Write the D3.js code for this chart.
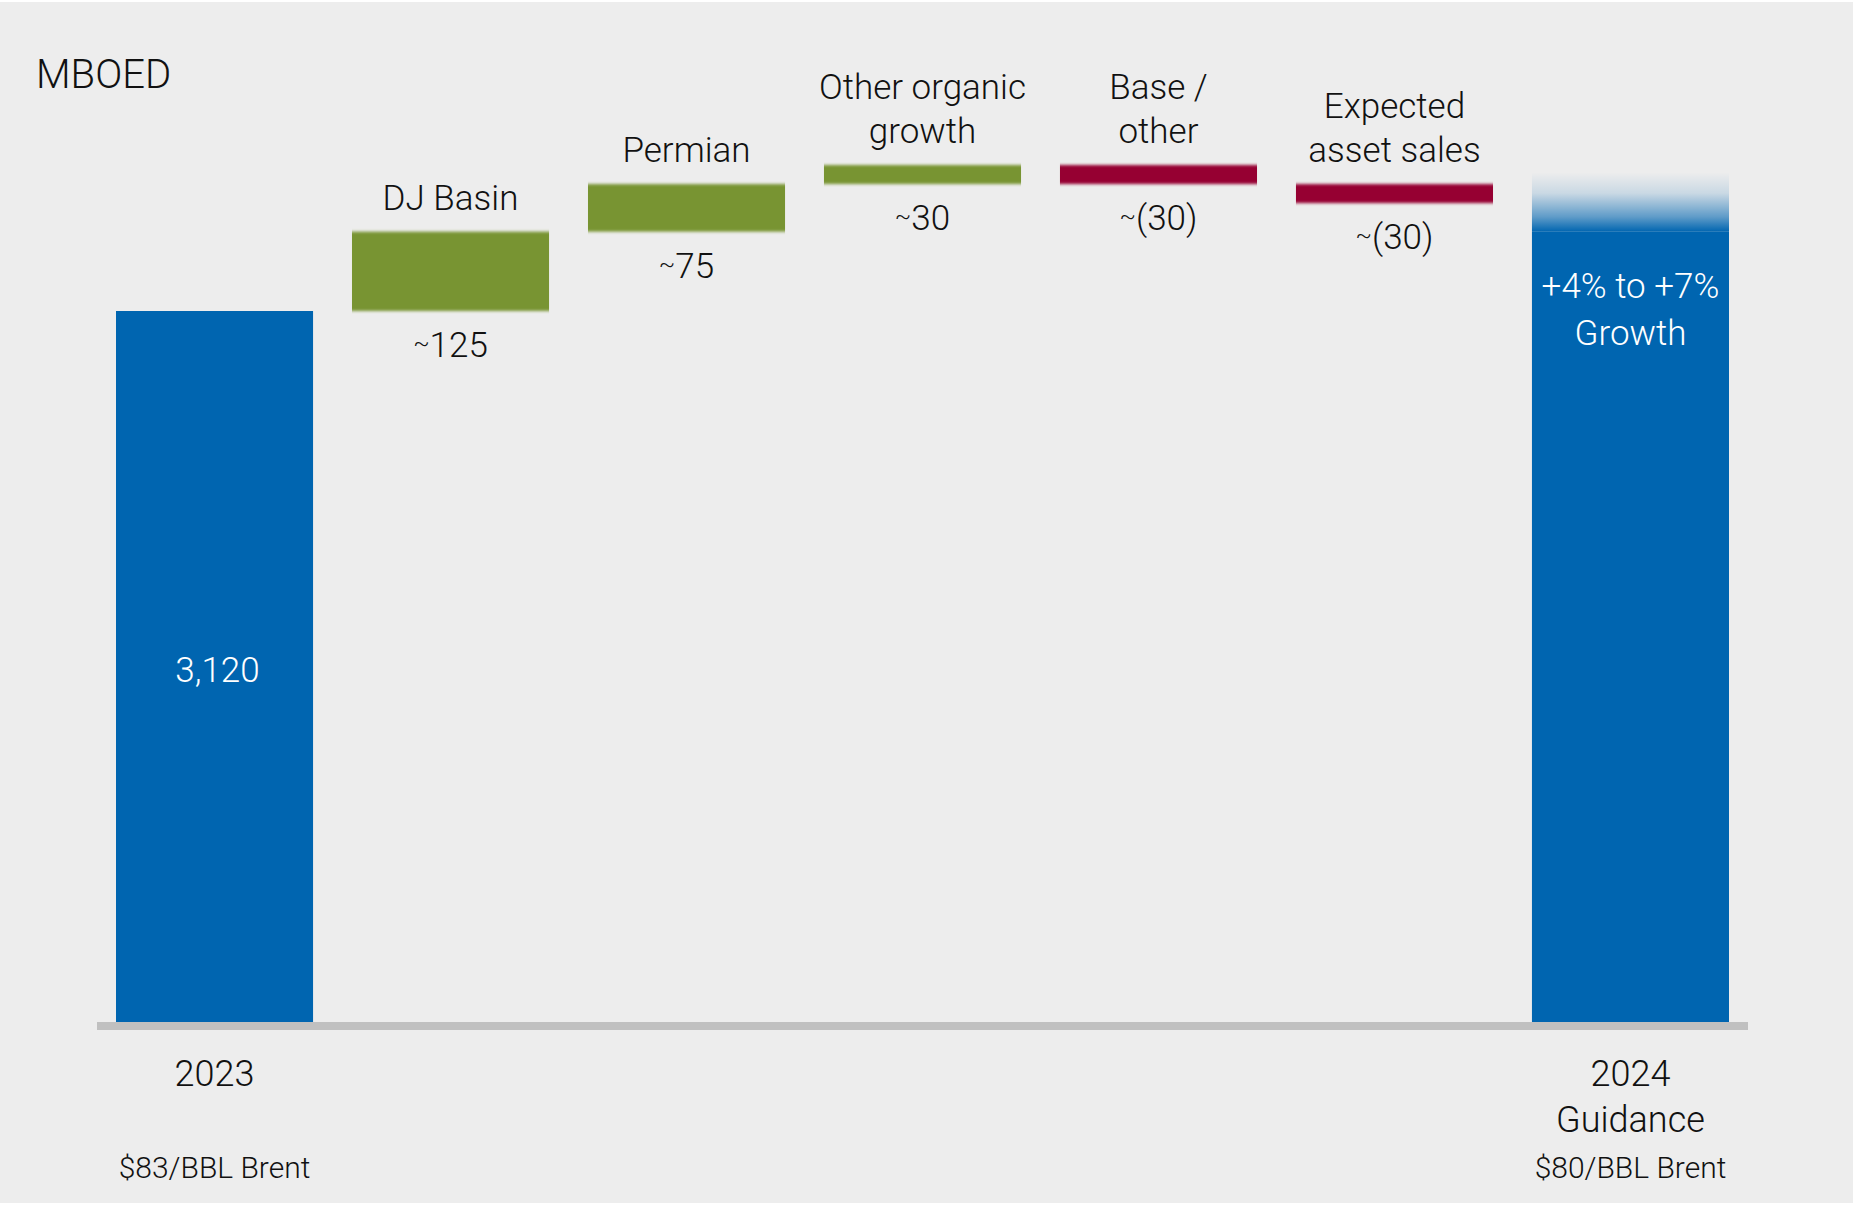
<!DOCTYPE html>
<html>
<head>
<meta charset="utf-8">
<script src="https://cdn.jsdelivr.net/npm/d3@7"></script>
<style>
  html, body { margin: 0; padding: 0; background: #ffffff; }
  svg { display: block; }
  text { font-family: Roboto, "Noto Sans", sans-serif; font-weight: 300; }
</style>
</head>
<body>
<svg id="chart" width="1853" height="1205"></svg>
<script>
// ---- data ----
const categories = ["2023", "DJ Basin", "Permian", "Other organic growth", "Base / other", "Expected asset sales", "2024 Guidance"];
const topLabelLines = [null, ["DJ Basin"], ["Permian"], ["Other organic", "growth"], ["Base /", "other"], ["Expected", "asset sales"], null];
const startValue = 3120;
const deltas = [125, 75, 30, -30, -30];
const deltaLabels = ["~125", "~75", "~30", "~(30)", "~(30)"];
const startLabel = "3,120";
const growthRange = [0.04, 0.07];
const growthLabelLines = ["+4% to +7%", "Growth"];
const bottomLabelLines = [["2023"], ["2024", "Guidance"]];
const brentLabels = ["$83/BBL Brent", "$80/BBL Brent"];
const unitLabel = "MBOED";

// ---- build waterfall ----
let cum = startValue;
const steps = deltas.map((d, i) => {
  const s = { cat: categories[i + 1], start: cum, end: cum + d, delta: d, label: deltaLabels[i], lines: topLabelLines[i + 1] };
  cum += d;
  return s;
});
const maxCum = d3.max(steps, s => Math.max(s.start, s.end));
const endLow = startValue * (1 + growthRange[0]);
const endHigh = startValue * (1 + growthRange[1]);

const svg = d3.select("#chart");
const W = 1853, H = 1205;

svg.append("rect").attr("x", 0).attr("y", 2).attr("width", W).attr("height", H - 4).attr("fill", "#ededed");

const x = d3.scaleBand().domain(categories).range([116, 1729]).paddingInner(0.165).paddingOuter(0);
// broken (polylinear) value scale: the change bars are drawn enlarged, as in the original
const y = d3.scaleLinear().domain([0, startValue, maxCum]).range([1022, 311, 165]);

const defs = svg.append("defs");
const blur = defs.append("filter").attr("id", "vblur")
  .attr("x", "-5%").attr("y", "-60%").attr("width", "110%").attr("height", "220%");
blur.append("feGaussianBlur").attr("stdDeviation", "0 1.4");

const grad = defs.append("linearGradient").attr("id", "fade").attr("x1", 0).attr("y1", 0).attr("x2", 0).attr("y2", 1);
grad.append("stop").attr("offset", "0%").attr("stop-color", "#0065b0").attr("stop-opacity", 0.0);
grad.append("stop").attr("offset", "35%").attr("stop-color", "#0065b0").attr("stop-opacity", 0.15);
grad.append("stop").attr("offset", "75%").attr("stop-color", "#0065b0").attr("stop-opacity", 0.6);
grad.append("stop").attr("offset", "100%").attr("stop-color", "#0065b0").attr("stop-opacity", 1);

const blue = "#0065b0", green = "#789433", red = "#960030";

// start bar
svg.append("rect")
  .attr("x", x(categories[0])).attr("width", x.bandwidth())
  .attr("y", y(startValue)).attr("height", y(0) - y(startValue))
  .attr("fill", blue);

// change bars
svg.selectAll("rect.step").data(steps).join("rect")
  .attr("class", "step")
  .attr("x", d => x(d.cat)).attr("width", x.bandwidth())
  .attr("y", d => y(Math.max(d.start, d.end)))
  .attr("height", d => Math.abs(y(d.start) - y(d.end)))
  .attr("fill", d => d.delta >= 0 ? green : red)
  .attr("filter", "url(#vblur)");

// end bar (solid to low guidance, faded to high guidance)
const endCat = categories[categories.length - 1];
svg.append("rect")
  .attr("x", x(endCat)).attr("width", x.bandwidth())
  .attr("y", y(endLow)).attr("height", y(0) - y(endLow))
  .attr("fill", blue);
svg.append("rect")
  .attr("x", x(endCat)).attr("width", x.bandwidth())
  .attr("y", y(endHigh)).attr("height", y(endLow) - y(endHigh))
  .attr("fill", "url(#fade)");

// baseline axis
svg.append("rect").attr("x", 97).attr("y", y(0)).attr("width", 1748 - 97).attr("height", 8).attr("fill", "#c0c0c0");

// unit label
svg.append("text").attr("x", 36).attr("y", 88).attr("font-size", 40).attr("fill", "#111").text(unitLabel);

const cx = c => x(c) + x.bandwidth() / 2;

// draw a value label with a small raised tilde
function tildeText(sel, str) {
  if (str.startsWith("~")) {
    sel.append("tspan").attr("font-size", 24).attr("dy", -6).text("~");
    sel.append("tspan").attr("dy", 6).text(str.slice(1));
  } else sel.text(str);
}

// labels above / below change bars
steps.forEach(s => {
  const top = y(Math.max(s.start, s.end));
  const bot = y(Math.min(s.start, s.end));
  const n = s.lines.length;
  s.lines.forEach((ln, i) => {
    svg.append("text").attr("x", cx(s.cat)).attr("y", top - 22 - (n - 1 - i) * 44)
      .attr("text-anchor", "middle").attr("font-size", 35).attr("fill", "#111").text(ln);
  });
  const t = svg.append("text").attr("x", cx(s.cat)).attr("y", bot + 46)
    .attr("text-anchor", "middle").attr("font-size", 35).attr("fill", "#111");
  tildeText(t, s.label);
});

// value inside start bar
svg.append("text").attr("x", cx(categories[0]) + 3).attr("y", 682)
  .attr("text-anchor", "middle").attr("font-size", 35).attr("fill", "#ffffff").text(startLabel);

// growth text inside end bar
growthLabelLines.forEach((ln, i) => {
  svg.append("text").attr("x", cx(endCat)).attr("y", y(endLow) + 66 + i * 47)
    .attr("text-anchor", "middle").attr("font-size", 35).attr("fill", "#ffffff").text(ln);
});

// bottom category labels
[categories[0], endCat].forEach((c, k) => {
  bottomLabelLines[k].forEach((ln, i) => {
    svg.append("text").attr("x", cx(c)).attr("y", 1086 + i * 46)
      .attr("text-anchor", "middle").attr("font-size", 36).attr("fill", "#111").text(ln);
  });
  svg.append("text").attr("x", cx(c)).attr("y", 1178)
    .attr("text-anchor", "middle").attr("font-size", 30).attr("fill", "#111").text(brentLabels[k]);
});
</script>
</body>
</html>
